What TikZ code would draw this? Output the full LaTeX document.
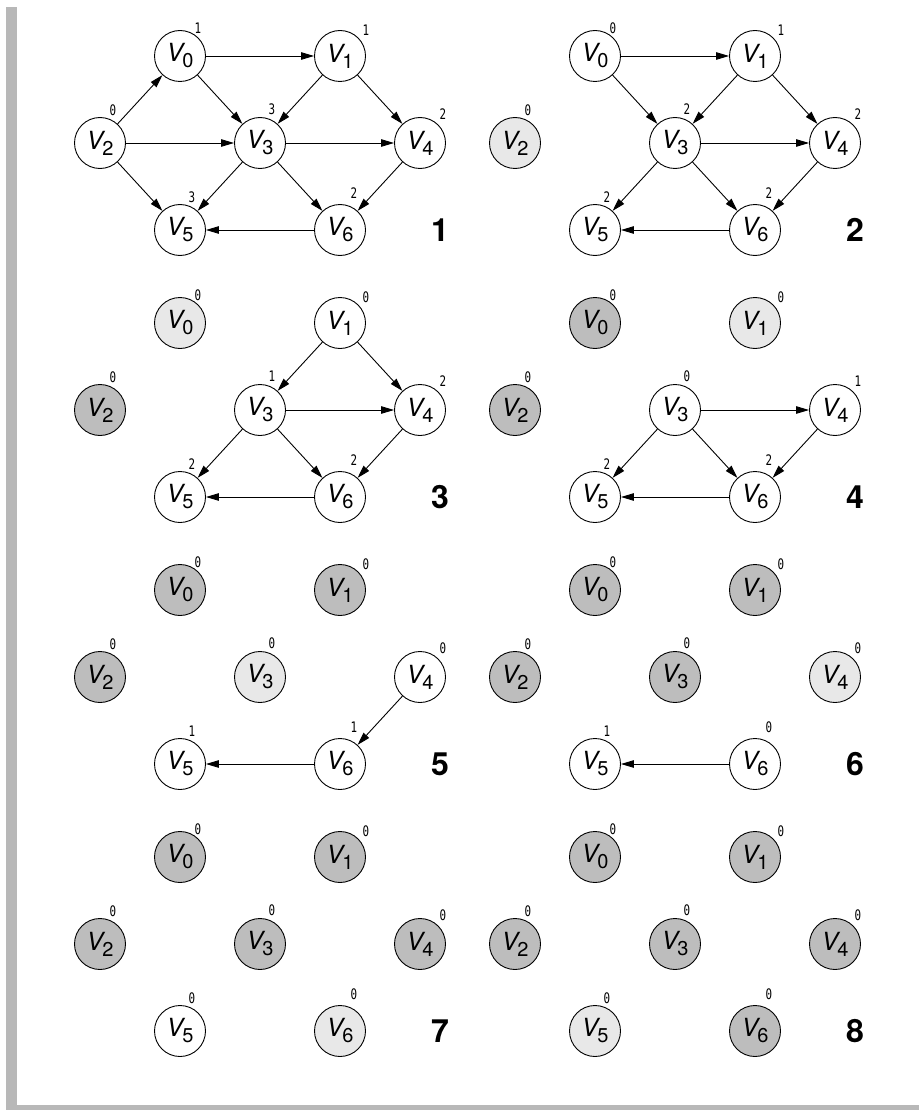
\documentclass[tikz,border=0pt]{standalone}
\usepackage{fontspec}
\usepackage{graphicx}
\setmainfont{TeX Gyre Heros}
\newfontfamily\monof{DejaVu Sans Mono}
\usetikzlibrary{arrows.meta}
\definecolor{lg}{gray}{0.91}
\definecolor{dg}{gray}{0.74}
\definecolor{bord}{gray}{0.72}
\newcommand\vlab[1]{{\fontsize{25}{25}\selectfont\itshape V}\kern-1pt\raisebox{-6pt}{\fontsize{20}{20}\selectfont #1}}
\newcommand\dlab[1]{\scalebox{0.75}[1]{#1}}
\tikzset{
  vtx/.style={circle, draw=black, line width=0.9pt, minimum size=51pt, inner sep=0pt},
  deg/.style={inner sep=0pt, font=\monof\fontsize{14.5}{14.5}\selectfont},
  num/.style={inner sep=0pt, font=\fontsize{32}{32}\selectfont\bfseries},
  edge/.style={line width=0.9pt, -{Triangle[length=13pt,width=7.5pt]}},
  bordfill/.style={fill=bord}
}
\newcommand\panel[6]{% #1 id, #2 dx, #3 dy, #4 vertices v/fill/deg, #5 edges a/b, #6 number
  \foreach \v/\f/\d in {#4}{
    \pgfmathsetmacro\px{{180,340,100,260,420,180,340}[\v]+#2}
    \pgfmathsetmacro\py{{56,56,143,143,143,230,230}[\v]+#3}
    \pgfmathsetmacro\ox{{18,26,13,12,23,12,14}[\v]}
    \pgfmathsetmacro\oy{{-28,-26,-33,-34,-29,-33,-37}[\v]}
    \node[vtx,fill=\f] (#1v\v) at (\px,\py) {\vlab{\v}};
    \node[deg] (#1d\v) at (\px+\ox,\py+\oy) {\dlab{\d}};
  }
  \foreach \a/\b in {#5}{\draw[edge] (#1v\a) -- (#1v\b);}
  \node[num] (#1n) at (440+#2,230+#3) {#6};
}
\begin{document}
\begin{tikzpicture}[x=1pt,y=-1pt]
\useasboundingbox (0,0) rectangle (923,1110);
\fill[bordfill] (6,7) rectangle (17,1110);
\fill[bordfill] (6,1105) rectangle (919,1110);
% panel 1
\panel{pa}{0}{0}{0/white/1,1/white/1,2/white/0,3/white/3,4/white/2,5/white/3,6/white/2}
  {0/1,0/3,1/3,1/4,2/0,2/3,2/5,3/4,3/5,3/6,4/6,6/5}{1}
% panel 2
\panel{pb}{415}{0}{0/white/0,1/white/1,2/lg/0,3/white/2,4/white/2,5/white/2,6/white/2}
  {0/1,0/3,1/3,1/4,3/4,3/5,3/6,4/6,6/5}{2}
% panel 3
\panel{pc}{0}{267}{0/lg/0,1/white/0,2/dg/0,3/white/1,4/white/2,5/white/2,6/white/2}
  {1/3,1/4,3/4,3/5,3/6,4/6,6/5}{3}
% panel 4
\panel{pd}{415}{267}{0/dg/0,1/lg/0,2/dg/0,3/white/0,4/white/1,5/white/2,6/white/2}
  {3/4,3/5,3/6,4/6,6/5}{4}
% panel 5
\panel{pe}{0}{534}{0/dg/0,1/dg/0,2/dg/0,3/lg/0,4/white/0,5/white/1,6/white/1}
  {4/6,6/5}{5}
% panel 6
\panel{pf}{415}{534}{0/dg/0,1/dg/0,2/dg/0,3/dg/0,4/lg/0,5/white/1,6/white/0}
  {6/5}{6}
% panel 7
\panel{pg}{0}{801}{0/dg/0,1/dg/0,2/dg/0,3/dg/0,4/dg/0,5/white/0,6/lg/0}
  {}{7}
% panel 8
\panel{ph}{415}{801}{0/dg/0,1/dg/0,2/dg/0,3/dg/0,4/dg/0,5/lg/0,6/dg/0}
  {}{8}
\end{tikzpicture}
\end{document}
